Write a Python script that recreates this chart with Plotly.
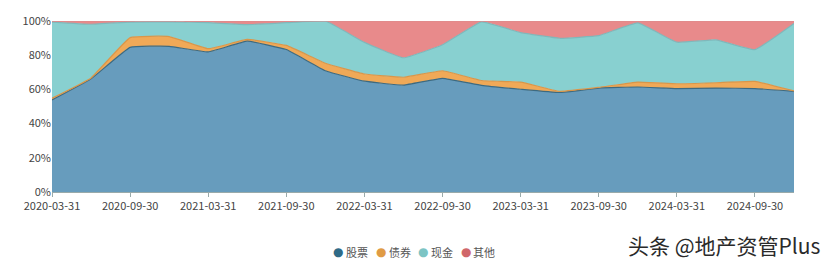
import plotly.graph_objects as go

dates = ["2020-03-31", "2020-06-30", "2020-09-30", "2020-12-31",
         "2021-03-31", "2021-06-30", "2021-09-30", "2021-12-31",
         "2022-03-31", "2022-06-30", "2022-09-30", "2022-12-31",
         "2023-03-31", "2023-06-30", "2023-09-30", "2023-12-31",
         "2024-03-31", "2024-06-30", "2024-09-30", "2024-12-31"]

stock = [53.8, 66.2, 84.6, 85.2, 81.9, 88.2, 83.3, 70.9, 64.8, 62.5,
         66.5, 62.4, 60.1, 58.2, 60.8, 61.4, 60.5, 60.8, 60.5, 58.9]
bond = [1.0, 0.5, 5.7, 5.7, 1.9, 1.0, 2.4, 4.4, 4.2, 4.6,
        4.4, 2.8, 4.2, 0.7, 0.4, 2.9, 2.8, 3.1, 4.2, 0.2]
cash = [44.6, 31.4, 9.1, 8.6, 15.2, 8.7, 13.3, 24.7, 18.5, 11.4,
        15.2, 34.3, 28.9, 31.0, 30.2, 34.6, 24.3, 25.1, 18.6, 39.4]
other = [0.6, 1.9, 0.6, 0.5, 1.0, 2.1, 1.0, 0.0, 12.5, 21.5,
         13.9, 0.5, 6.8, 10.1, 8.6, 1.1, 12.4, 11.0, 16.7, 1.5]

y_ticks = [0, 20, 40, 60, 80, 100]
y_labels = ["0%", "20%", "40%", "60%", "80%", "100%"]

names = ["股票", "债券", "现金", "其他"]
fills = ["#679cbd", "#f0a957", "#88d0d0", "#e88a8b"]
lines = ["#3d6a80", "#d9964a", "#7fb8bb", "#d98a8c"]
dots = ["#2f6a86", "#e09b45", "#7cc4c4", "#d0676a"]

L, R, T, B, W, H = 52, 37, 18, 75, 831, 267
PW, PH = W - L - R, H - T - B

xs = list(range(len(dates)))
fig = go.Figure()
for name, vals, fc, lc in zip(names, [stock, bond, cash, other], fills, lines):
    fig.add_trace(go.Scatter(
        x=xs, y=vals, name=name, stackgroup="one", mode="lines",
        line=dict(color=lc, width=1.2, shape="spline", smoothing=0.3),
        fillcolor=fc, showlegend=False, hoverinfo="skip"))

font = "Noto Sans CJK SC, Open Sans, sans-serif"

annotations = []
leg_y = -(253 - (T + PH)) / PH
for i, (name, dc) in enumerate(zip(names, dots)):
    dot_px = 338 + 42.5 * i
    annotations.append(dict(
        text="●", x=(dot_px - L) / PW, xanchor="center", y=leg_y, yanchor="middle",
        xref="paper", yref="paper", showarrow=False,
        font=dict(size=12, color=dc, family="DejaVu Sans")))
    annotations.append(dict(
        text=name, x=(dot_px + 6 - L) / PW, xanchor="left", y=leg_y, yanchor="middle",
        xref="paper", yref="paper", showarrow=False,
        font=dict(size=11, color="#555", family=font)))

annotations.append(dict(
    text="头条 @地产资管Plus", x=(823 - L) / PW, xanchor="right",
    y=-(246 - (T + PH)) / PH, yanchor="middle", xref="paper", yref="paper",
    showarrow=False, font=dict(size=21, color="#2a2a2a", family=font)))

fig.update_layout(
    width=W, height=H,
    margin=dict(l=L, r=R, t=T, b=B),
    paper_bgcolor="white", plot_bgcolor="white",
    font=dict(family=font, size=11, color="#444"),
    showlegend=False,
    xaxis=dict(range=[0, len(dates) - 1], tickvals=xs[::2], ticktext=dates[::2],
               showgrid=False, zeroline=False, showline=True, linecolor="#9aa",
               ticks="outside", ticklen=4, tickcolor="#9aa",
               tickfont=dict(size=11, color="#444")),
    yaxis=dict(range=[0, 100], tickvals=y_ticks, ticktext=y_labels,
               showgrid=False, zeroline=False, showline=False,
               tickfont=dict(size=11, color="#444")),
    annotations=annotations,
)
fig.write_html("out.html")
